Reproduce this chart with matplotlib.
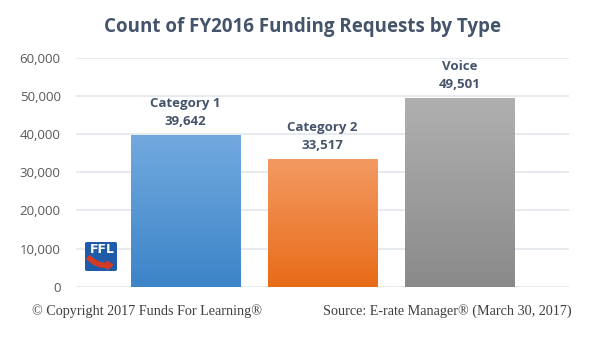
import matplotlib
matplotlib.use("Agg")
import matplotlib.pyplot as plt
import numpy as np
from matplotlib.colors import LinearSegmentedColormap
from matplotlib.patches import FancyBboxPatch, FancyArrowPatch

categories = ["Category 1", "Category 2", "Voice"]
counts = [39642, 33517, 49501]
top_colors = ["#72AADF", "#F39A62", "#B0B0B0"]
bottom_colors = ["#3C84C8", "#E86C18", "#8A8A8A"]
y_ticks = [0, 10000, 20000, 30000, 40000, 50000, 60000]

title_color = "#44546A"
tick_color = "#595959"

fig = plt.figure(figsize=(6.04, 3.43), dpi=100)
ax = fig.add_axes([0.1258, 0.164, 0.8162, 0.668])

x = np.arange(len(categories))
bars = ax.bar(x, counts, width=0.8, color="none", zorder=2)

# vertical gradient fill for each bar
gradient = np.linspace(1, 0, 256).reshape(-1, 1)
for bar, top, bottom in zip(bars, top_colors, bottom_colors):
    cmap = LinearSegmentedColormap.from_list("g", [bottom, top])
    x0, w, h = bar.get_x(), bar.get_width(), bar.get_height()
    im = ax.imshow(gradient, cmap=cmap, aspect="auto", extent=[x0, x0 + w, 0, h],
                   zorder=2, vmin=0, vmax=1)
    im.set_clip_path(bar)

for xi, name, val in zip(x, categories, counts):
    ax.annotate(f"{name}\n{val:,}", (xi, val), xytext=(0, 5), textcoords="offset points",
                ha="center", va="bottom", fontsize=9.5, fontweight="bold",
                color=title_color, linespacing=1.5, family="Open Sans")

ax.set_xlim(-0.8, 2.8)
ax.set_ylim(0, 60000)
ax.set_yticks(y_ticks)
ax.set_yticklabels([f"{v:,}" for v in y_ticks], family="Open Sans", fontsize=9.5, color=tick_color)
ax.set_xticks([])
ax.tick_params(axis="y", length=0, pad=11)
ax.grid(axis="y", color="#E3E6EB", linewidth=1.2, zorder=0)
ax.set_axisbelow(True)
for s in ax.spines.values():
    s.set_visible(False)

fig.text(0.5, 0.92, "Count of FY2016 Funding Requests by Type", ha="center", va="center",
         fontsize=13.5, fontweight="bold", color=title_color, family="Open Sans")

fig.text(0.053, 0.093, "\u00a9 Copyright 2017 Funds For Learning\u00ae", ha="left", va="center",
         fontsize=10.2, color="#404040", family="Liberation Serif")
fig.text(0.947, 0.093, "Source: E-rate Manager\u00ae (March 30, 2017)", ha="right", va="center",
         fontsize=10.2, color="#404040", family="Liberation Serif")

# FFL logo
lx, ly, lw, lh = 85 / 604, 1 - 271 / 343, 32 / 604, 29 / 343
fig.patches.append(FancyBboxPatch((lx, ly), lw, lh, boxstyle="round,pad=0,rounding_size=0.004",
                                  transform=fig.transFigure, facecolor="#1F5BA8", edgecolor="none"))
fig.text(lx + lw * 0.55, ly + lh * 0.73, "FFL", ha="center", va="center", fontsize=9,
         fontweight="bold", color="white", family="DejaVu Sans")
fig.patches.append(FancyArrowPatch((lx + lw * 0.05, ly + lh * 0.55), (lx + lw * 0.95, ly + lh * 0.25),
                                   connectionstyle="arc3,rad=0.35",
                                   arrowstyle="simple,head_width=6,head_length=4,tail_width=3",
                                   transform=fig.transFigure, color="#D23B24"))

fig.savefig("out.png", dpi=100)
